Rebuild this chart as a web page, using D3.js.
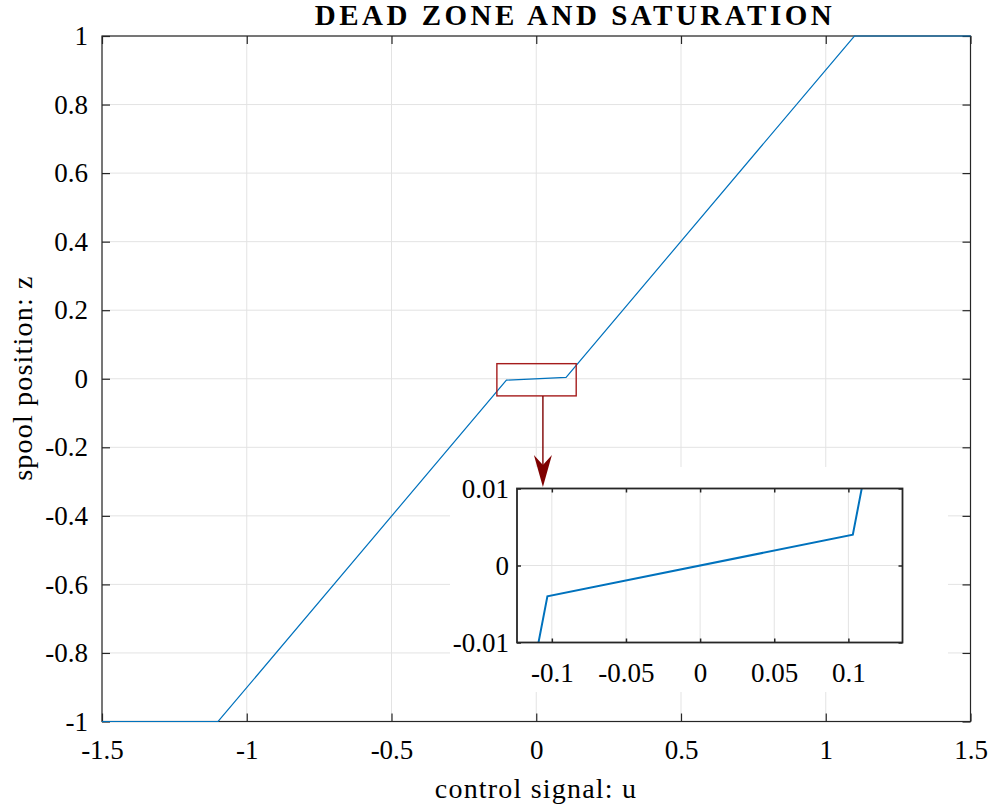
<!DOCTYPE html>
<html>
<head>
<meta charset="utf-8">
<script src="https://cdn.jsdelivr.net/npm/d3@7"></script>
<style>
  body { margin: 0; background: #fff; }
  svg { display: block; }
  text { font-family: "Liberation Serif", "DejaVu Serif", serif; fill: #000; }
</style>
</head>
<body>
<svg id="chart" width="991" height="810"></svg>
<script>
// dead zone + saturation curve (control signal u -> spool position z)
const uVals = [-1.5, -1.099, -0.103, 0.103, 1.099, 1.5];
const zVals = [-1, -1, -0.004, 0.004, 1, 1];

const xTicks = [-1.5, -1, -0.5, 0, 0.5, 1, 1.5];
const yTicks = [-1, -0.8, -0.6, -0.4, -0.2, 0, 0.2, 0.4, 0.6, 0.8, 1];

// zoomed inset
const insetXDomain = [-0.1235, 0.1365];
const insetYDomain = [-0.01, 0.01];
const insetXTicks = [-0.1, -0.05, 0, 0.05, 0.1];
const insetYTicks = [-0.01, 0, 0.01];

// region marked on main plot
const boxU = [-0.136, 0.138];
const boxZ = [-0.05, 0.044];
const arrowU = 0.023;

const points = uVals.map((u, i) => ({ u: u, z: zVals[i] }));

const svg = d3.select('#chart');
const blue = '#0072BD';
const axisColor = '#262626';
const gridColor = '#e3e3e3';

// main axes
const m = { left: 102, right: 970.5, top: 36, bottom: 721.5 };
const x = d3.scaleLinear().domain([-1.5, 1.5]).range([m.left, m.right]);
const y = d3.scaleLinear().domain([-1, 1]).range([m.bottom, m.top]);

const main = svg.append('g');

main.selectAll('line.vgrid')
    .data(xTicks)
    .enter()
    .append('line')
    .attr('x1', d => x(d)).attr('x2', d => x(d))
    .attr('y1', m.top).attr('y2', m.bottom)
    .attr('stroke', gridColor).attr('stroke-width', 1);

main.selectAll('line.hgrid')
    .data(yTicks)
    .enter()
    .append('line')
    .attr('x1', m.left).attr('x2', m.right)
    .attr('y1', d => y(d)).attr('y2', d => y(d))
    .attr('stroke', gridColor).attr('stroke-width', 1);

// axes with inward ticks on all four sides
const tickLen = 8;
main.append('g')
    .attr('transform', `translate(0,${m.bottom})`)
    .call(d3.axisBottom(x).tickValues(xTicks).tickSizeInner(-tickLen).tickSizeOuter(0).tickPadding(18).tickFormat(d => String(d)));
main.append('g')
    .attr('transform', `translate(0,${m.top})`)
    .call(d3.axisTop(x).tickValues(xTicks).tickSizeInner(-tickLen).tickSizeOuter(0).tickFormat(''));
main.append('g')
    .attr('transform', `translate(${m.left},0)`)
    .call(d3.axisLeft(y).tickValues(yTicks).tickSizeInner(-tickLen).tickSizeOuter(0).tickPadding(14).tickFormat(d => String(d)));
main.append('g')
    .attr('transform', `translate(${m.right},0)`)
    .call(d3.axisRight(y).tickValues(yTicks).tickSizeInner(-tickLen).tickSizeOuter(0).tickFormat(''));

main.selectAll('.domain').remove();
main.selectAll('.tick line').attr('stroke', axisColor).attr('stroke-width', 1.2);
main.selectAll('.tick text').attr('font-size', 27).attr('fill', '#000')
    .style('font-family', '"Liberation Serif", serif');

main.append('rect')
    .attr('x', m.left).attr('y', m.top)
    .attr('width', m.right - m.left).attr('height', m.bottom - m.top)
    .attr('fill', 'none').attr('stroke', axisColor).attr('stroke-width', 1.2);

const line = d3.line().x(d => x(d.u)).y(d => y(d.z));
main.append('path')
    .datum(points)
    .attr('d', line)
    .attr('fill', 'none')
    .attr('stroke', blue)
    .attr('stroke-width', 1.2);

// title and labels
svg.append('text')
    .attr('x', 575).attr('y', 25)
    .attr('text-anchor', 'middle')
    .attr('font-size', 29)
    .attr('font-weight', 'bold')
    .attr('letter-spacing', 3.5)
    .text('DEAD ZONE AND SATURATION');

svg.append('text')
    .attr('x', 536).attr('y', 798)
    .attr('text-anchor', 'middle')
    .attr('font-size', 28)
    .attr('letter-spacing', 1.2)
    .text('control signal: u');

svg.append('text')
    .attr('transform', 'translate(32,378) rotate(-90)')
    .attr('text-anchor', 'middle')
    .attr('font-size', 28)
    .attr('letter-spacing', 1.2)
    .text('spool position: z');

// zoom rectangle and arrow
svg.append('rect')
    .attr('x', x(boxU[0])).attr('y', y(boxZ[1]))
    .attr('width', x(boxU[1]) - x(boxU[0]))
    .attr('height', y(boxZ[0]) - y(boxZ[1]))
    .attr('fill', 'none').attr('stroke', '#a51c1c').attr('stroke-width', 1.4);

// inset axes
const ins = { left: 517, right: 902.5, top: 488.5, bottom: 642.5 };
const xi = d3.scaleLinear().domain(insetXDomain).range([ins.left, ins.right]);
const yi = d3.scaleLinear().domain(insetYDomain).range([ins.bottom, ins.top]);

const inset = svg.append('g');

// white figure background behind the inset
inset.append('rect')
    .attr('x', 450).attr('y', 467)
    .attr('width', 498).attr('height', 225)
    .attr('fill', '#fff');

inset.selectAll('line.vgrid')
    .data(insetXTicks)
    .enter()
    .append('line')
    .attr('x1', d => xi(d)).attr('x2', d => xi(d))
    .attr('y1', ins.top).attr('y2', ins.bottom)
    .attr('stroke', gridColor).attr('stroke-width', 1);
inset.selectAll('line.hgrid')
    .data(insetYTicks)
    .enter()
    .append('line')
    .attr('x1', ins.left).attr('x2', ins.right)
    .attr('y1', d => yi(d)).attr('y2', d => yi(d))
    .attr('stroke', gridColor).attr('stroke-width', 1);

const insTick = 4;
inset.append('g')
    .attr('transform', `translate(0,${ins.bottom})`)
    .call(d3.axisBottom(xi).tickValues(insetXTicks).tickSizeInner(-insTick).tickSizeOuter(0).tickPadding(20).tickFormat(d => String(d)));
inset.append('g')
    .attr('transform', `translate(0,${ins.top})`)
    .call(d3.axisTop(xi).tickValues(insetXTicks).tickSizeInner(-insTick).tickSizeOuter(0).tickFormat(''));
inset.append('g')
    .attr('transform', `translate(${ins.left},0)`)
    .call(d3.axisLeft(yi).tickValues(insetYTicks).tickSizeInner(-insTick).tickSizeOuter(0).tickPadding(8).tickFormat(d => String(d)));
inset.append('g')
    .attr('transform', `translate(${ins.right},0)`)
    .call(d3.axisRight(yi).tickValues(insetYTicks).tickSizeInner(-insTick).tickSizeOuter(0).tickFormat(''));

inset.selectAll('.domain').remove();
inset.selectAll('.tick line').attr('stroke', axisColor).attr('stroke-width', 1.5);
inset.selectAll('.tick text').attr('font-size', 27).attr('fill', '#000')
    .style('font-family', '"Liberation Serif", serif');

inset.append('clipPath').attr('id', 'insetClip')
    .append('rect')
    .attr('x', ins.left).attr('y', ins.top)
    .attr('width', ins.right - ins.left).attr('height', ins.bottom - ins.top);

const lineInset = d3.line().x(d => xi(d.u)).y(d => yi(d.z));
inset.append('path')
    .datum(points)
    .attr('d', lineInset)
    .attr('clip-path', 'url(#insetClip)')
    .attr('fill', 'none')
    .attr('stroke', blue)
    .attr('stroke-width', 2);

inset.append('rect')
    .attr('x', ins.left).attr('y', ins.top)
    .attr('width', ins.right - ins.left).attr('height', ins.bottom - ins.top)
    .attr('fill', 'none').attr('stroke', axisColor).attr('stroke-width', 1.8);

// arrow from zoom box to inset
const ax = x(arrowU);
const ay0 = y(boxZ[0]);
const ay1 = ins.top - 1.5;
svg.append('line')
    .attr('x1', ax).attr('x2', ax)
    .attr('y1', ay0).attr('y2', ay1 - 22)
    .attr('stroke', '#7f0000').attr('stroke-width', 1.4);
svg.append('path')
    .attr('d', `M${ax},${ay1} L${ax - 9},${ay1 - 32} L${ax},${ay1 - 22} L${ax + 9},${ay1 - 32} Z`)
    .attr('fill', '#7f0000');
</script>
</body>
</html>
